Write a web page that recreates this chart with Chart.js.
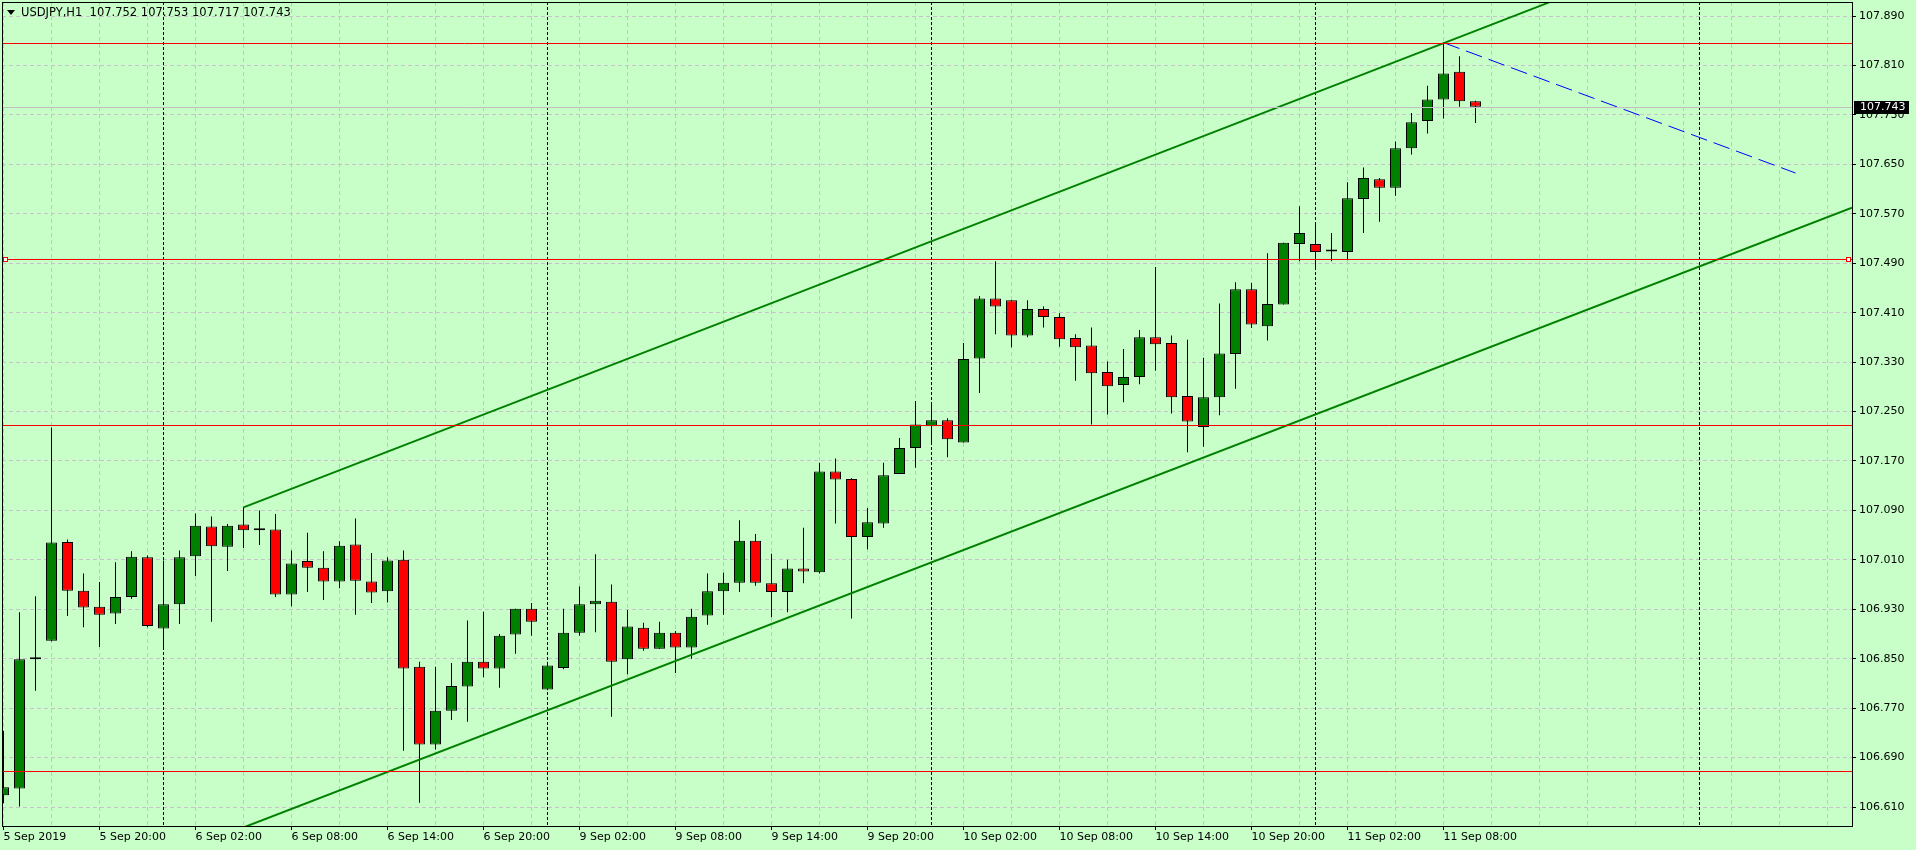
<!DOCTYPE html>
<html>
<head>
<meta charset="utf-8">
<title>USDJPY,H1</title>
<script src="https://cdn.jsdelivr.net/npm/chart.js@4.4.1/dist/chart.umd.min.js"></script>
<style>
  html, body { margin: 0; padding: 0; background: #c8ffc8; overflow: hidden; }
  canvas { display: block; }
</style>
</head>
<body>
<canvas id="chart" width="1916" height="850"></canvas>
<script>
// USDJPY H1 bars, 5 Sep 2019 14:00 -> 11 Sep 2019 10:00 (weekend skipped), one per hour
const opens = [
  106.629, 106.640, 106.849, 106.879, 107.039, 106.960, 106.934, 106.923, 106.950, 107.014,
  106.899, 106.938, 107.016, 107.064, 107.031, 107.067, 107.058, 107.059, 106.954, 107.008,
  106.997, 106.975, 107.035, 106.975, 106.959, 107.010, 106.837, 106.711, 106.766, 106.805,
  106.845, 106.834, 106.889, 106.931, 106.800, 106.835, 106.892, 106.938, 106.942, 106.849,
  106.900, 106.866, 106.892, 106.868, 106.920, 106.959, 106.973, 107.041, 106.972, 106.958,
  106.996, 106.990, 107.153, 107.141, 107.047, 107.069, 107.149, 107.191, 107.226, 107.236,
  107.200, 107.336, 107.433, 107.430, 107.373, 107.416, 107.403, 107.369, 107.357, 107.314,
  107.293, 107.306, 107.370, 107.361, 107.275, 107.225, 107.273, 107.343, 107.448, 107.388,
  107.423, 107.521, 107.521, 107.509, 107.508, 107.594, 107.626, 107.612, 107.676, 107.720,
  107.755, 107.800, 107.752
]
const highs = [
  106.733, 106.925, 106.951, 107.224, 107.043, 106.988, 106.974, 107.006, 107.024, 107.017,
  107.009, 107.025, 107.085, 107.080, 107.068, 107.095, 107.090, 107.084, 107.025, 107.054,
  107.024, 107.040, 107.077, 107.021, 107.014, 107.025, 106.845, 106.837, 106.843, 106.912,
  106.926, 106.890, 106.931, 106.940, 106.845, 106.931, 106.967, 107.019, 106.970, 106.929,
  106.908, 106.910, 106.895, 106.931, 106.988, 106.989, 107.074, 107.052, 107.020, 107.010,
  107.062, 107.167, 107.174, 107.142, 107.094, 107.167, 107.207, 107.267, 107.262, 107.239,
  107.361, 107.437, 107.493, 107.430, 107.430, 107.420, 107.409, 107.375, 107.386, 107.331,
  107.351, 107.382, 107.484, 107.373, 107.366, 107.337, 107.425, 107.459, 107.458, 107.506,
  107.523, 107.582, 107.555, 107.539, 107.621, 107.645, 107.628, 107.687, 107.733, 107.777,
  107.847, 107.825, 107.753
]
const lows = [
  106.616, 106.611, 106.798, 106.878, 106.919, 106.901, 106.869, 106.906, 106.947, 106.901,
  106.865, 106.906, 106.984, 106.910, 106.992, 107.029, 107.034, 106.950, 106.935, 106.958,
  106.945, 106.964, 106.921, 106.940, 106.941, 106.701, 106.617, 106.703, 106.751, 106.748,
  106.820, 106.803, 106.858, 106.887, 106.799, 106.833, 106.887, 106.893, 106.756, 106.825,
  106.863, 106.866, 106.827, 106.850, 106.905, 106.921, 106.958, 106.968, 106.917, 106.925,
  106.972, 106.988, 107.069, 106.915, 107.027, 107.062, 107.149, 107.159, 107.200, 107.176,
  107.200, 107.280, 107.375, 107.354, 107.370, 107.386, 107.355, 107.300, 107.229, 107.245,
  107.265, 107.294, 107.316, 107.247, 107.184, 107.193, 107.244, 107.287, 107.385, 107.365,
  107.423, 107.493, 107.480, 107.493, 107.495, 107.539, 107.557, 107.599, 107.666, 107.700,
  107.724, 107.743, 107.717
]
const closes = [
  106.642, 106.849, 106.849, 107.038, 106.960, 106.933, 106.921, 106.950, 107.015, 106.903,
  106.938, 107.014, 107.065, 107.032, 107.065, 107.058, 107.058, 106.954, 107.004, 106.997,
  106.975, 107.033, 106.976, 106.957, 107.009, 106.834, 106.711, 106.766, 106.806, 106.845,
  106.834, 106.887, 106.931, 106.910, 106.839, 106.892, 106.938, 106.944, 106.845, 106.902,
  106.866, 106.892, 106.868, 106.918, 106.959, 106.973, 107.041, 106.973, 106.958, 106.996,
  106.991, 107.153, 107.140, 107.047, 107.071, 107.147, 107.191, 107.229, 107.236, 107.205,
  107.335, 107.433, 107.420, 107.373, 107.416, 107.403, 107.367, 107.354, 107.312, 107.291,
  107.306, 107.370, 107.359, 107.273, 107.234, 107.273, 107.344, 107.448, 107.391, 107.424,
  107.523, 107.539, 107.508, 107.509, 107.595, 107.628, 107.612, 107.676, 107.718, 107.755,
  107.797, 107.752, 107.743
]

// time axis labels, one every 6 bars
const xLabels = [
  "5 Sep 2019", "5 Sep 20:00", "6 Sep 02:00", "6 Sep 08:00", "6 Sep 14:00", "6 Sep 20:00",
  "9 Sep 02:00", "9 Sep 08:00", "9 Sep 14:00", "9 Sep 20:00", "10 Sep 02:00", "10 Sep 08:00",
  "10 Sep 14:00", "10 Sep 20:00", "11 Sep 02:00", "11 Sep 08:00"
]
const yTicks = [
  106.610, 106.690, 106.770, 106.850, 106.930, 107.010, 107.090, 107.170, 107.250,
  107.330, 107.410, 107.490, 107.570, 107.650, 107.730, 107.810, 107.890
]

// objects drawn on the chart
const hLevels = [107.847, 107.497, 107.229, 106.669]   // red horizontal lines
const bidLevel = 107.743
const daySeparators = [10, 34, 58, 82, 106]            // bar index of each midnight
const channelTop = [{x: 15, y: 107.095}, {x: 96.6, y: 107.912}]
const channelBottom = [{x: 15, y: 106.577}, {x: 115.53, y: 107.580}]
const blueLine = [{x: 90, y: 107.847}, {x: 112, y: 107.636}]

const BG = "#c8ffc8"
const GRID = "#cac2ca"
const BULL = "#008000"
const BEAR = "#ff0000"
const FONT = "'DejaVu Sans', sans-serif"

const bodies = opens.map((o, i) => ({x: i, y: [o, closes[i]]}))
const wicks = lows.map((l, i) => ({x: i, y: [l, highs[i]]}))
const bodyColors = opens.map((o, i) => closes[i] > o ? BULL : (closes[i] < o ? BEAR : "#000"))

const isLabelTick = v => v % 6 === 0 && v / 6 < xLabels.length

const mtPlugin = {
  id: "mt",
  beforeDraw(chart) {
    const ctx = chart.ctx
    ctx.save()
    ctx.fillStyle = BG
    ctx.fillRect(0, 0, chart.width, chart.height)
    ctx.restore()
  },
  beforeDatasetsDraw(chart) {
    const {ctx, chartArea: a, scales} = chart
    ctx.save()
    ctx.strokeStyle = "#000"
    ctx.lineWidth = 1
    ctx.setLineDash([3, 2])
    daySeparators.forEach(d => {
      const x = scales.x.getPixelForValue(d)
      ctx.beginPath()
      ctx.moveTo(x, a.top)
      ctx.lineTo(x, a.bottom)
      ctx.stroke()
    })
    ctx.restore()
  },
  afterDatasetsDraw(chart) {
    const {ctx, chartArea: a, scales} = chart
    ctx.save()
    ctx.beginPath()
    ctx.rect(a.left, a.top, a.right - a.left, a.bottom - a.top)
    ctx.clip()
    ctx.lineWidth = 1
    // bid line
    let yb = Math.round(scales.y.getPixelForValue(bidLevel)) + 0.5
    ctx.strokeStyle = "#c0c0c0"
    ctx.beginPath()
    ctx.moveTo(a.left, yb)
    ctx.lineTo(a.right, yb)
    ctx.stroke()
    ctx.strokeStyle = "#ff0000"
    hLevels.forEach(v => {
      const y = Math.round(scales.y.getPixelForValue(v)) + 0.5
      ctx.beginPath()
      ctx.moveTo(a.left, y)
      ctx.lineTo(a.right, y)
      ctx.stroke()
    })
    // handles of the selected line
    const ys = Math.round(scales.y.getPixelForValue(hLevels[1])) + 0.5
    ctx.fillStyle = "#fff"
    ;[a.left + 1, a.right - 6].forEach(x => {
      ctx.fillRect(x + 0.5, ys - 2, 4, 4)
      ctx.strokeRect(x + 0.5, ys - 2, 4, 4)
    })
    ctx.restore()
  },
  afterDraw(chart) {
    const {ctx, chartArea: a, scales} = chart
    ctx.save()
    // frame
    ctx.strokeStyle = "#000"
    ctx.lineWidth = 1
    ctx.strokeRect(a.left + 0.5, a.top + 0.5, a.right - a.left, a.bottom - a.top)
    // bid price box on the axis
    const yb = scales.y.getPixelForValue(bidLevel)
    ctx.fillStyle = "#000"
    ctx.fillRect(a.right + 2, Math.round(yb) - 6, 55, 13)
    ctx.fillStyle = "#fff"
    ctx.font = "11px " + FONT
    ctx.textBaseline = "middle"
    ctx.fillText(bidLevel.toFixed(3), a.right + 8, Math.round(yb) + 0.5)
    // header
    ctx.fillStyle = "#000"
    ctx.beginPath()
    ctx.moveTo(7, 10)
    ctx.lineTo(15, 10)
    ctx.lineTo(11, 15)
    ctx.closePath()
    ctx.fill()
    const last = opens.length - 1
    const head = "USDJPY,H1  " + [opens[last], highs[last], lows[last], closes[last]].map(v => v.toFixed(3)).join(" ")
    ctx.font = "11.5px " + FONT
    ctx.fillText(head, 21, 13)
    ctx.restore()
  }
}

const chart = new Chart(document.getElementById("chart"), {
  type: "bar",
  data: {
    datasets: [
      {type: "line", data: channelTop, borderColor: BULL, borderWidth: 2, pointRadius: 0, fill: false},
      {type: "line", data: channelBottom, borderColor: BULL, borderWidth: 2, pointRadius: 0, fill: false},
      {type: "line", data: blueLine, borderColor: "#0000ff", borderWidth: 1, borderDash: [17, 7], pointRadius: 0, fill: false},
      {
        data: bodies,
        backgroundColor: bodyColors,
        borderColor: "#000",
        borderWidth: 1,
        borderSkipped: false,
        barThickness: 11,
        minBarLength: 2,
        grouped: false,
        inflateAmount: 0
      },
      {
        data: wicks,
        backgroundColor: "#000",
        borderWidth: 0,
        barThickness: 1,
        grouped: false,
        inflateAmount: 0
      }
    ]
  },
  options: {
    responsive: false,
    maintainAspectRatio: false,
    devicePixelRatio: 1,
    animation: false,
    events: [],
    layout: {padding: {left: 2, top: 2, right: 0, bottom: 0}},
    plugins: {legend: {display: false}, tooltip: {enabled: false}},
    scales: {
      x: {
        type: "linear",
        position: "bottom",
        min: -0.09375,
        max: 115.53125,
        bounds: "data",
        offset: false,
        afterBuildTicks: s => {
          const t = []
          for (let v = 0; v <= 114; v += 3) t.push({value: v})
          s.ticks = t
        },
        afterFit: s => { s.height = 24; s.paddingLeft = 0; s.paddingRight = 0 },
        grid: {
          offset: false,
          color: GRID,
          lineWidth: 1,
          drawTicks: true,
          tickLength: 4,
          tickColor: c => (c.tick && isLabelTick(c.tick.value)) ? "#000" : "rgba(0,0,0,0)"
        },
        border: {display: false, dash: [4, 3]},
        ticks: {
          autoSkip: false,
          maxRotation: 0,
          minRotation: 0,
          align: "start",
          padding: 1,
          color: "#000",
          font: {family: FONT, size: 11},
          callback: v => isLabelTick(v) ? xLabels[v / 6] : ""
        }
      },
      y: {
        type: "linear",
        position: "right",
        min: 106.5793,
        max: 107.9127,
        bounds: "data",
        beginAtZero: false,
        afterBuildTicks: s => { s.ticks = yTicks.map(v => ({value: v})) },
        afterFit: s => { s.width = 64; s.paddingTop = 0; s.paddingBottom = 0 },
        grid: {color: GRID, lineWidth: 1, drawTicks: true, tickLength: 4, tickColor: "#000"},
        border: {display: false, dash: [4, 3]},
        ticks: {
          padding: 3,
          color: "#000",
          font: {family: FONT, size: 11},
          callback: v => Number(v).toFixed(3)
        }
      }
    }
  },
  plugins: [mtPlugin]
})
</script>
</body>
</html>
